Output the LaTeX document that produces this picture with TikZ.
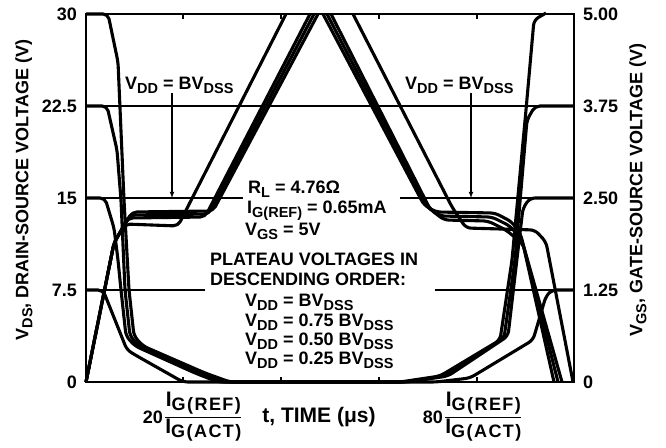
\documentclass[tikz,border=0pt]{standalone}
\usepackage{fontspec}
\setmainfont{Liberation Sans}
\usepackage{amsmath}
\usepackage{tikz}

\newcommand{\lo}[1]{\raisebox{-4pt}{\fontsize{14.5}{14.5}\selectfont #1}}
\newcommand{\gsub}[1]{\raisebox{-4pt}{\fontsize{18}{18}\selectfont\addfontfeature{LetterSpace=8}#1}}
\newcommand{\igfrac}{$\dfrac{\mbox{\fontsize{21}{21}\selectfont I\gsub{G(REF)}}}{\mbox{\fontsize{21}{21}\selectfont I\gsub{G(ACT)}}}$}

\begin{document}
\begin{tikzpicture}[x=1pt,y=-1pt]
		\tikzstyle{curve}=[line width=3.1pt, rounded corners=5pt, line join=round]
		\tikzstyle{frame}=[line width=1.2pt]
		\tikzstyle{grid}=[line width=1.1pt]
		\tikzstyle{txt}=[font=\fontsize{18}{20}\selectfont\bfseries, inner sep=0pt]

		\useasboundingbox (0,0) rectangle (666,447);

		% grid lines and ticks
		\draw[grid] (86,106) -- (574,106);
		\draw[grid] (86,198) -- (243,198);
		\draw[grid] (400,198) -- (574,198);
		\draw[grid] (86,290) -- (205,290);
		\draw[grid] (435,290) -- (574,290);
		\foreach \tx in {183,281,379,477} {
			\draw[frame] (\tx,14) -- (\tx,19);
			\draw[frame] (\tx,382) -- (\tx,377);
		}

		% V_DS, turn on
		\draw[curve] (86,14) -- (108,14) -- (118,62) -- (124,200) -- (129,290) -- (134,336) -- (143,346) -- (205,373) -- (230,382) -- (300,382);
		\draw[curve] (86,106) -- (107,106) -- (117,150) -- (121,200) -- (125,290) -- (130,336) -- (139,346) -- (200,373) -- (224,382) -- (300,382);
		\draw[curve] (86,198) -- (105,198) -- (114,228) -- (118,260) -- (121,290) -- (126,336) -- (135,346) -- (195,373) -- (218,382) -- (300,382);
		\draw[curve] (86,290) -- (103,290) -- (127,350) -- (137,356) -- (183,382) -- (300,382);

		% V_GS, turn on
		\draw[curve] (86,382) -- (114,243) -- (132,212) -- (213,211) -- (318,14);
		\draw[curve] (86,382) -- (114,243) -- (130,215) -- (209,214) -- (314,14);
		\draw[curve] (86,382) -- (114,243) -- (128,218) -- (205,217) -- (310,14);
		\draw[curve] (86,382) -- (114,243) -- (125,224) -- (178,226) -- (286,14);

		% V_GS, turn off
		\draw[curve] (323,14) -- (424,205) -- (436,212) -- (495,213) -- (512,222) -- (521,235) -- (554,382);
		\draw[curve] (327,14) -- (427,207) -- (440,216) -- (492,217) -- (510,226) -- (522,240) -- (558,382);
		\draw[curve] (331,14) -- (430,209) -- (444,220) -- (488,221) -- (506,230) -- (523,244) -- (562,382);
		\draw[curve] (353,14) -- (452,207) -- (466,228) -- (535,230) -- (546,242) -- (573,382);

		% V_DS, turn off
		\draw[curve] (300,382) -- (400,382) -- (440,376) -- (500,340) -- (512,260) -- (526,110) -- (534,20) -- (546,13);
		\draw[curve] (300,382) -- (404,382) -- (444,376) -- (504,338) -- (515,260) -- (527,120) -- (535,106) -- (574,106);
		\draw[curve] (300,382) -- (408,382) -- (448,376) -- (508,336) -- (518,250) -- (523,208) -- (530,198) -- (574,198);
		\draw[curve] (300,382) -- (436,382) -- (470,378) -- (533,340) -- (546,296) -- (552,290) -- (574,290);

		% frame
		\draw[frame] (86,14) rectangle (574,382);

		% axis numbers
		\foreach \yv/\lab [count=\i] in {14/30,106/22.5,198/15,290/7.5,382/0}
			\node[txt,anchor=east] (vl\i) at (77,\yv) {\lab};
		\foreach \yv/\lab [count=\i] in {14/5.00,106/3.75,198/2.50,290/1.25,382/0}
			\node[txt,anchor=west] (vr\i) at (583,\yv) {\lab};

		% axis titles
		\node[txt,rotate=90] (ytitle) at (24,190) {V\lo{DS}, DRAIN-SOURCE VOLTAGE (V)};
		\node[txt,rotate=90] (gtitle) at (638,190) {V\lo{GS}, GATE-SOURCE VOLTAGE (V)};
		\node[txt,anchor=east] (twenty) at (163,417) {20};
		\node[txt,anchor=west] (ftwenty) at (164,417) {\igfrac};
		\node[txt,anchor=base,font=\fontsize{21}{23}\selectfont\bfseries] (tlabel) at (319,422) {t, TIME (μs)};
		\node[txt,anchor=east] (eighty) at (443,417) {80};
		\node[txt,anchor=west] (feighty) at (444,417) {\igfrac};

		% V_DD = BV_DSS markers
		\node[txt,anchor=base west] (bvleft) at (125,89) {V\lo{DD} = BV\lo{DSS}};
		\node[txt,anchor=base west] (bvright) at (405,89) {V\lo{DD} = BV\lo{DSS}};
		\coordinate (pleft) at (172,198);
		\coordinate (pright) at (471,198);
		\draw[-latex,line width=1.1pt] (bvleft.south -| pleft) -- (pleft);
		\draw[-latex,line width=1.1pt] (bvright.south -| pright) -- (pright);

		% test conditions
		\node[txt,anchor=base west] (rl) at (248,193) {R\lo{L} = 4.76Ω};
		\node[txt,anchor=base west] (igref) at (247,213) {I\lo{G(REF)} = 0.65mA};
		\node[txt,anchor=base west] (vgs) at (245,235) {V\lo{GS} = 5V};
		\node[txt,anchor=base west] (plat) at (210,265) {PLATEAU VOLTAGES IN};
		\node[txt,anchor=base west] (desc) at (210,285) {DESCENDING ORDER:};
		\node[txt,anchor=base west] (ord1) at (245,306) {V\lo{DD} = BV\lo{DSS}};
		\node[txt,anchor=base west] (ord2) at (245,326) {V\lo{DD} = 0.75 BV\lo{DSS}};
		\node[txt,anchor=base west] (ord3) at (245,345) {V\lo{DD} = 0.50 BV\lo{DSS}};
		\node[txt,anchor=base west] (ord4) at (245,364) {V\lo{DD} = 0.25 BV\lo{DSS}};
\end{tikzpicture}
\end{document}
